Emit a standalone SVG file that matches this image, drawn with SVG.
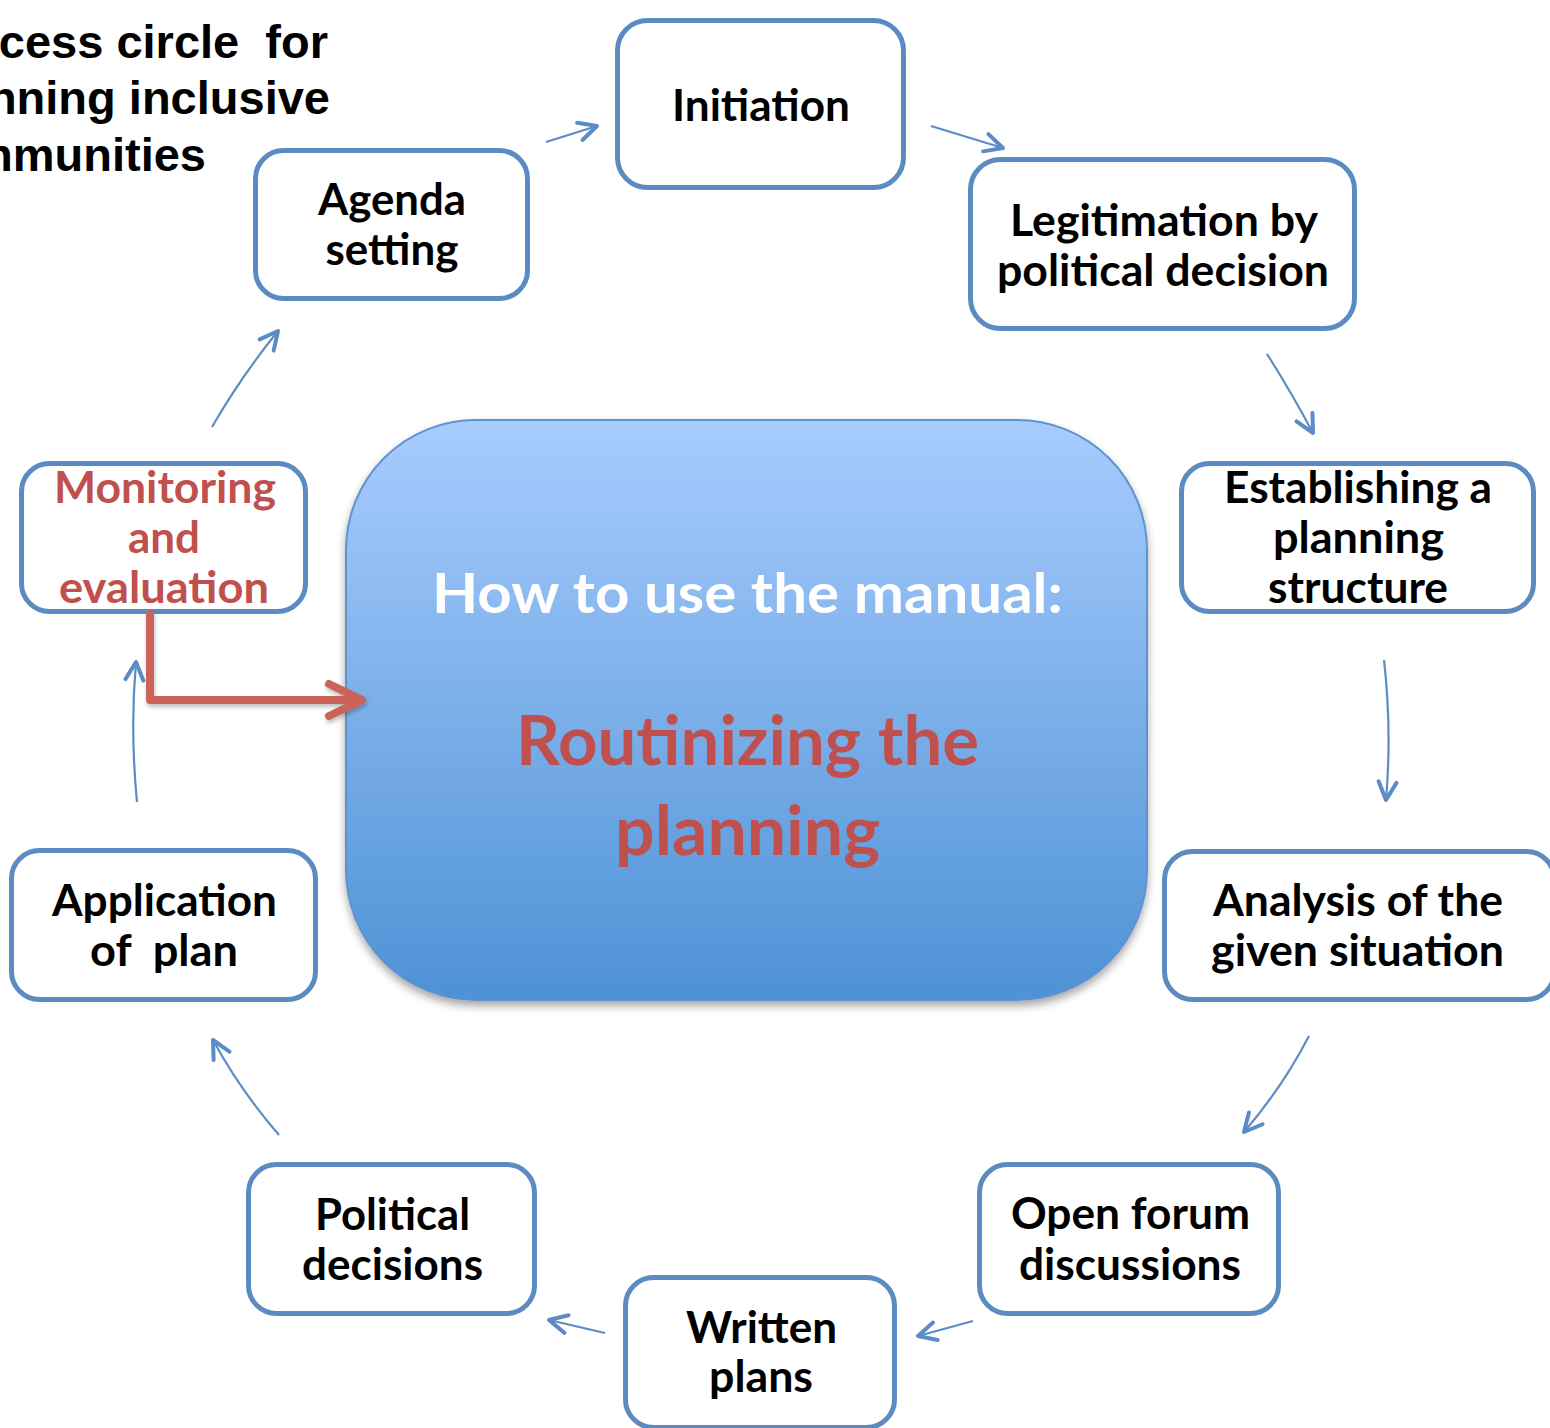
<svg xmlns="http://www.w3.org/2000/svg" width="1550" height="1428" viewBox="0 0 1550 1428">
<style>
.box{fill:#ffffff;stroke:#5B8BC1;stroke-width:5}
.t{font-family:Lato,"Open Sans","Liberation Sans",sans-serif;font-weight:bold;font-size:44px;fill:#000000;text-anchor:middle}
.red{fill:#C0504D}
.title{font-family:"Liberation Sans",Arial,sans-serif;font-weight:bold;font-size:47px;fill:#000000;text-anchor:end}
.c{fill:none;stroke:#5B8CC6;stroke-width:2.2}
</style>
<defs>
<linearGradient id="g" x1="0" y1="0" x2="0" y2="1">
<stop offset="0" stop-color="#A8CCFE"/>
<stop offset="1" stop-color="#4E92D5"/>
</linearGradient>
<filter id="sh" x="-10%" y="-10%" width="120%" height="125%">
<feDropShadow dx="0" dy="5" stdDeviation="4" flood-color="#000000" flood-opacity="0.35"/>
</filter>
<filter id="sh2" x="-10%" y="-10%" width="130%" height="130%">
<feDropShadow dx="1" dy="3" stdDeviation="2" flood-color="#000000" flood-opacity="0.25"/>
</filter>
<marker id="ah" viewBox="0 0 24 24" refX="21" refY="12" markerWidth="24" markerHeight="24" markerUnits="userSpaceOnUse" orient="auto">
<path d="M3,3 L21,12 L3,21" fill="none" stroke="#5B8CC6" stroke-width="4" stroke-linecap="round" stroke-linejoin="round"/>
</marker>
</defs>
<rect width="1550" height="1428" fill="#ffffff"/>

<g id="title">
<text class="title" x="328" y="58" xml:space="preserve">Process circle  for</text>
<text class="title" x="330" y="114">planning inclusive</text>
<text class="title" x="206" y="171">communities</text>
</g>

<g id="center">
<rect x="346" y="420" width="801" height="580" rx="130" ry="130" fill="url(#g)" stroke="#5F93CF" stroke-width="2" filter="url(#sh)"/>
<text class="t" x="747.5" y="613" style="font-size:56px;fill:#ffffff" textLength="631" lengthAdjust="spacingAndGlyphs">How to use the manual:</text>
<text class="t red" x="747.5" y="765" style="font-size:68px" textLength="463" lengthAdjust="spacingAndGlyphs">Routinizing the</text>
<text class="t red" x="747.5" y="855" style="font-size:68px" textLength="265" lengthAdjust="spacingAndGlyphs">planning</text>
</g>

<g id="initiation">
<rect class="box" x="617.5" y="20.5" width="286" height="167" rx="30"/>
<text class="t" x="761" y="121" textLength="178" lengthAdjust="spacingAndGlyphs">Initiation</text>
</g>

<g id="agenda">
<rect class="box" x="255.5" y="150.5" width="272" height="148" rx="28"/>
<text class="t" x="392" y="215" textLength="148" lengthAdjust="spacingAndGlyphs">Agenda</text>
<text class="t" x="392" y="265" textLength="133" lengthAdjust="spacingAndGlyphs">setting</text>
</g>

<g id="legitimation">
<rect class="box" x="970.5" y="159.5" width="384" height="169" rx="30"/>
<text class="t" x="1164" y="236" textLength="308" lengthAdjust="spacingAndGlyphs">Legitimation by</text>
<text class="t" x="1163" y="286" textLength="332" lengthAdjust="spacingAndGlyphs">political decision</text>
</g>

<g id="establishing">
<rect class="box" x="1181.5" y="463.5" width="352" height="148" rx="28"/>
<text class="t" x="1358" y="503" textLength="268" lengthAdjust="spacingAndGlyphs">Establishing a</text>
<text class="t" x="1358.5" y="553" textLength="171" lengthAdjust="spacingAndGlyphs">planning</text>
<text class="t" x="1358" y="603" textLength="180" lengthAdjust="spacingAndGlyphs">structure</text>
</g>

<g id="analysis">
<rect class="box" x="1164.5" y="851.5" width="390" height="148" rx="28"/>
<text class="t" x="1358" y="916" textLength="290" lengthAdjust="spacingAndGlyphs">Analysis of the</text>
<text class="t" x="1357.5" y="966" textLength="293" lengthAdjust="spacingAndGlyphs">given situation</text>
</g>

<g id="openforum">
<rect class="box" x="979.5" y="1164.5" width="299" height="149" rx="28"/>
<text class="t" x="1130.5" y="1229" textLength="239" lengthAdjust="spacingAndGlyphs">Open forum</text>
<text class="t" x="1130" y="1280" textLength="222" lengthAdjust="spacingAndGlyphs">discussions</text>
</g>

<g id="written">
<rect class="box" x="625.5" y="1277.5" width="269" height="150" rx="28"/>
<text class="t" x="761.5" y="1343" textLength="151" lengthAdjust="spacingAndGlyphs">Written</text>
<text class="t" x="761" y="1392" textLength="104" lengthAdjust="spacingAndGlyphs">plans</text>
</g>

<g id="political">
<rect class="box" x="248.5" y="1164.5" width="286" height="149" rx="28"/>
<text class="t" x="392.5" y="1230" textLength="155" lengthAdjust="spacingAndGlyphs">Political</text>
<text class="t" x="392.5" y="1280" textLength="181" lengthAdjust="spacingAndGlyphs">decisions</text>
</g>

<g id="application">
<rect class="box" x="11.5" y="850.5" width="304" height="149" rx="28"/>
<text class="t" x="164.5" y="916" textLength="225" lengthAdjust="spacingAndGlyphs">Application</text>
<text class="t" x="164" y="966" textLength="148" lengthAdjust="spacingAndGlyphs" xml:space="preserve">of  plan</text>
</g>

<g id="monitoring">
<rect class="box" x="21.5" y="463.5" width="284" height="148" rx="28"/>
<text class="t red" x="165" y="503" textLength="222" lengthAdjust="spacingAndGlyphs">Monitoring</text>
<text class="t red" x="164" y="553" textLength="72" lengthAdjust="spacingAndGlyphs">and</text>
<text class="t red" x="164" y="603" textLength="210" lengthAdjust="spacingAndGlyphs">evaluation</text>
</g>

<g id="connectors">
<path class="c" d="M546,142 L597,126" marker-end="url(#ah)"/>
<path class="c" d="M931,126 L1003,148" marker-end="url(#ah)"/>
<path class="c" d="M1267,354 Q1290,390 1313,433" marker-end="url(#ah)"/>
<path class="c" d="M1384,660 Q1392,730 1386,800" marker-end="url(#ah)"/>
<path class="c" d="M1309,1036 Q1282,1088 1244,1132" marker-end="url(#ah)"/>
<path class="c" d="M973,1321 L918,1336" marker-end="url(#ah)"/>
<path class="c" d="M605,1333 L549,1320" marker-end="url(#ah)"/>
<path class="c" d="M279,1135 Q240,1090 213,1040" marker-end="url(#ah)"/>
<path class="c" d="M137,802 Q130,730 136,662" marker-end="url(#ah)"/>
<path class="c" d="M212,427 Q240,378 278,331" marker-end="url(#ah)"/>
<g filter="url(#sh2)" fill="none" stroke="#CC6359" stroke-width="8" stroke-linecap="round" stroke-linejoin="round">
<path d="M150,614 L150,700 L360,700"/>
<path d="M329,684 L362,700 L329,716"/>
</g>
</g>
</svg>
